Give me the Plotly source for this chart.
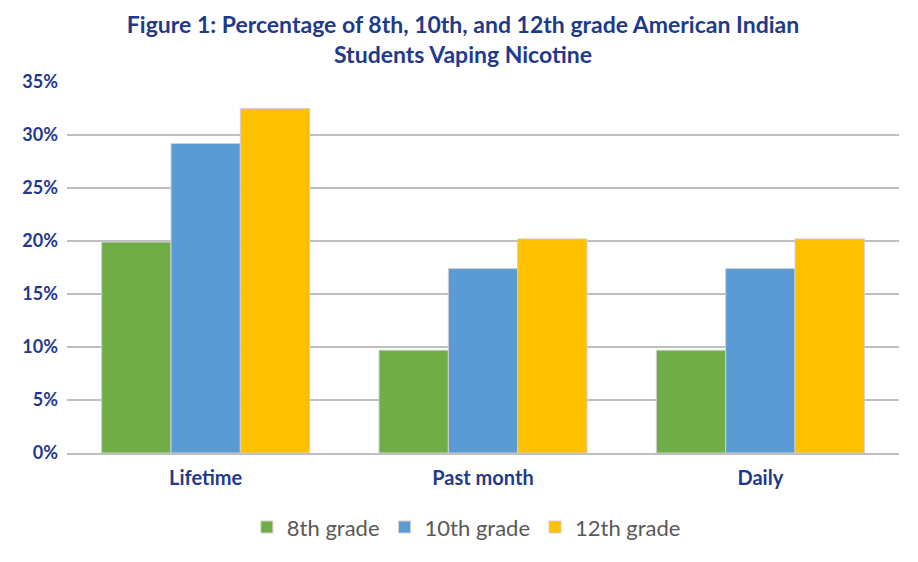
import plotly.graph_objects as go

categories = ["Lifetime", "Past month", "Daily"]
grade8 = [19.9, 9.7, 9.7]
grade10 = [29.2, 17.4, 17.4]
grade12 = [32.5, 20.2, 20.2]
series_names = ["8th grade", "10th grade", "12th grade"]
tick_vals = [0, 5, 10, 15, 20, 25, 30, 35]
tick_text = ["0%", "5%", "10%", "15%", "20%", "25%", "30%", "35%"]

colors = ["#70AD47", "#5B9BD5", "#FFC000"]
navy = "#1F3A8A"

fig = go.Figure()
for name, vals, c in zip(series_names, [grade8, grade10, grade12], colors):
    fig.add_trace(go.Bar(
        x=categories, y=vals, name=name,
        marker=dict(color=c, line=dict(color="#D0D0D0", width=1)),
    ))

fig.update_layout(
    width=910, height=554,
    paper_bgcolor="white", plot_bgcolor="white",
    barmode="group", bargap=0.25, bargroupgap=0,
    margin=dict(l=59, r=19, t=74, b=109),
    title=dict(
        text="Figure 1: Percentage of 8th, 10th, and 12th grade American Indian<br>Students Vaping Nicotine",
        x=0.5, xanchor="center", yref="container", y=0.955, yanchor="middle",
        font=dict(family="Lato", size=23, color=navy, weight="bold"),
    ),
    font=dict(family="Lato"),
    legend=dict(
        orientation="h", x=0.48, xanchor="center", y=-0.2, yanchor="middle",
        font=dict(family="Lato", size=22, color="#595959"),
        itemwidth=30, traceorder="normal",
    ),
    showlegend=True,
)
fig.update_yaxes(
    range=[0, 35], tickvals=tick_vals, ticktext=tick_text,
    showgrid=True, gridcolor="#BFBFBF", gridwidth=2,
    zeroline=False, showline=False,
    tickfont=dict(family="Lato", size=18, color=navy, weight="bold"),
    ticks="", ticklabelstandoff=8,
)
fig.update_xaxes(
    showline=True, linecolor="#BFBFBF", linewidth=2,
    tickfont=dict(family="Lato", size=20, color=navy, weight="bold"),
    ticks="", ticklabelstandoff=6,
)

fig.write_html("out.html")
